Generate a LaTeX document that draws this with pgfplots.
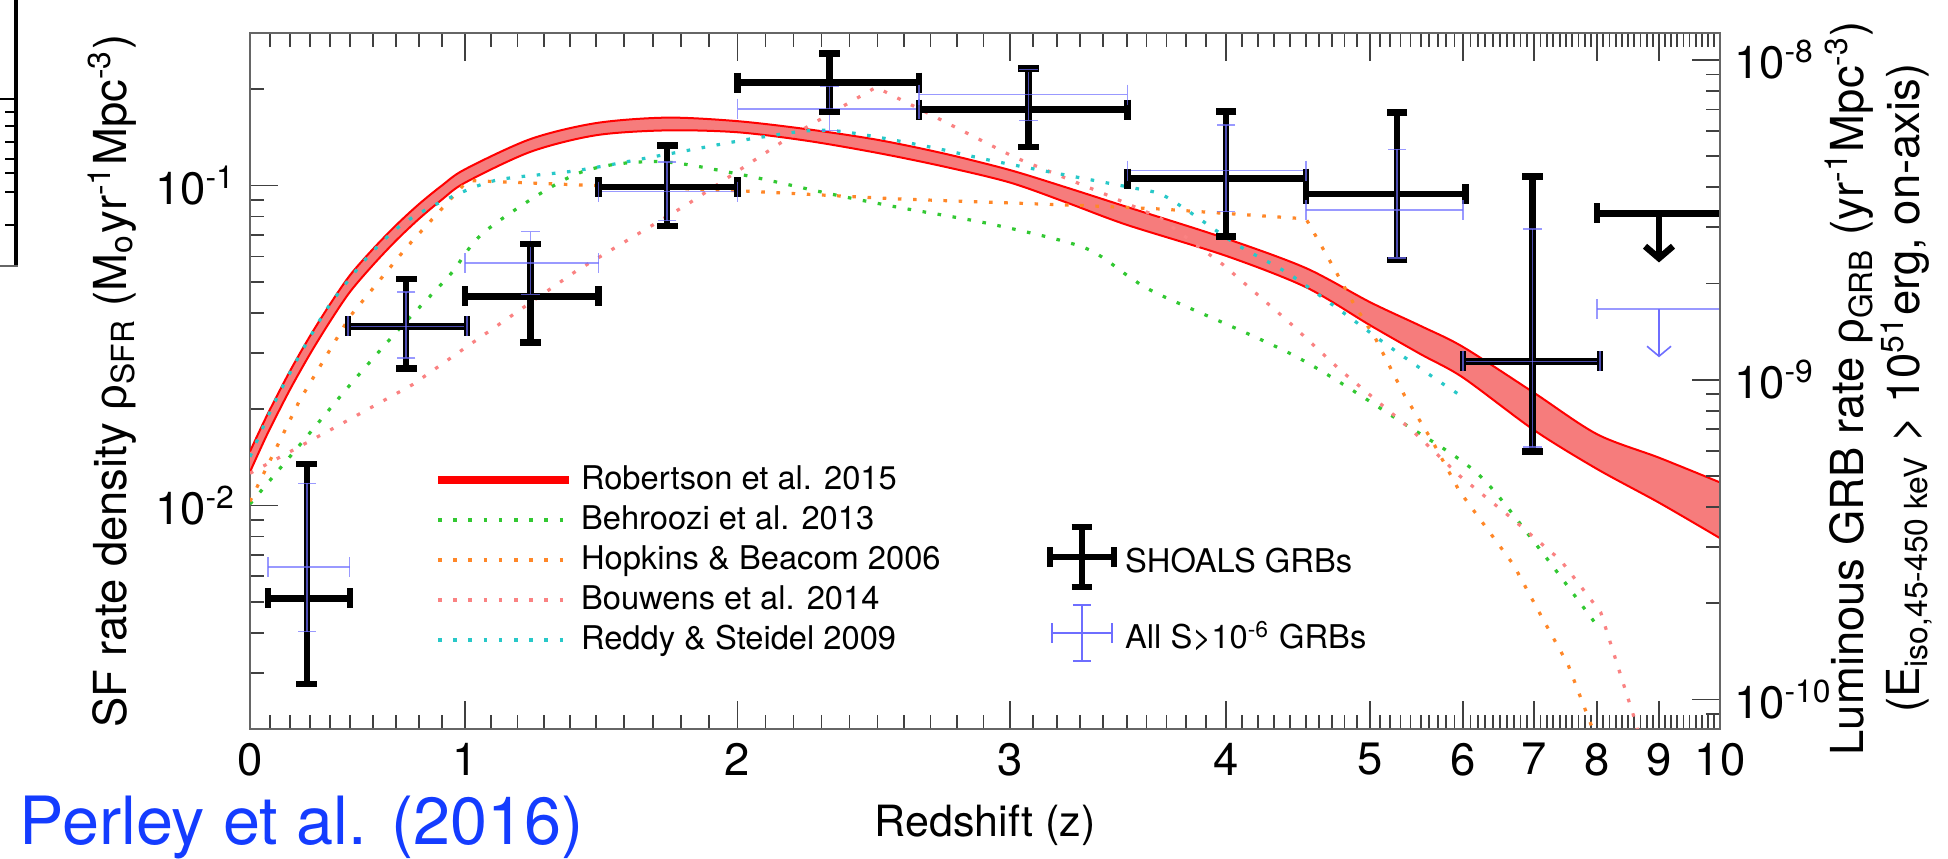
\documentclass[border=0pt]{standalone}
\usepackage{pgfplots}
\pgfplotsset{compat=1.18}
\usepgfplotslibrary{fillbetween}
\usetikzlibrary{arrows.meta}
\usepackage{fontspec}
\setmainfont{TeX Gyre Heros}
\newfontfamily\grk{Liberation Sans}

\definecolor{robred}{RGB}{255,0,0}
\definecolor{robfill}{RGB}{246,124,124}
\definecolor{behg}{RGB}{50,200,50}
\definecolor{hopo}{RGB}{255,135,40}
\definecolor{boup}{RGB}{250,130,130}
\definecolor{redc}{RGB}{40,200,200}
\definecolor{allb}{RGB}{110,110,255}
\definecolor{perleyb}{RGB}{20,60,255}

\pgfplotsset{
  % the redshift axis of the figure is stretched; approximated piecewise-linearly in half-unit steps of z
  zx/.style={x filter/.expression={2.00*x+0.30*max(x-0.5,0)+0.32*max(x-1,0)+0.21*max(x-1.5,0)-0.03*max(x-2,0)-0.15*max(x-2.5,0)-0.316*max(x-3,0)-0.348*max(x-3.5,0)-0.386*max(x-4,0)-0.32*max(x-4.5,0)-0.266*max(x-5,0)-0.168*max(x-5.5,0)-0.106*max(x-6,0)-0.06*max(x-6.5,0)-0.04*max(x-7,0)-0.02*max(x-7.5,0)-0.01*max(x-9,0)}},
  dotcurve/.style={zx, line width=0.8bp, dash pattern=on 0.9bp off 2.9bp},
  shoalsh/.style={zx, black, line width=1.6bp, mark=|, mark size=2.5bp, mark options={solid, line width=1.6bp}},
  shoalsv/.style={zx, black, line width=1.6bp, mark=-, mark size=2.6bp, mark options={solid, line width=1.6bp}},
  allh/.style={zx, allb, opacity=0.7, line width=0.4bp, mark=|, mark size=2.5bp, mark options={solid, line width=0.4bp}},
  allv/.style={zx, allb, opacity=0.7, line width=0.4bp, mark=-, mark size=2.3bp, mark options={solid, line width=0.4bp}},
}

\begin{document}
\begin{tikzpicture}
% cropped fragment of a neighbouring panel
\draw[black, line width=1bp] (4bp,214.75bp) -- (4bp,148.25bp);
\draw[black!60, line width=0.6bp] (0bp,148.25bp) -- (4.5bp,148.25bp);
\draw[black, line width=0.5bp] (0bp,190.1bp) -- (4bp,190.1bp);
\foreach \yy in {186.75,183.25,179.25,175,171.5,166.75,158.5} {\draw[black, line width=0.5bp] (1.3bp,\yy bp) -- (4bp,\yy bp);}

\begin{axis}[
  at={(62.5bp,32.5bp)}, anchor=south west,
  scale only axis, width=367.5bp, height=174bp,
  xmin=0, xmax=14.7,
  ymode=log, ymin=0.002, ymax=0.3,
  xtick={0,2.15,4.875,7.6,9.76,11.2,12.13,12.84,13.47,14.09,14.7},
  xticklabels={0,1,2,3,4,5,6,7,8,9,10},
  minor xtick={0.2,0.4,0.6,0.8,1.0,1.23,1.46,1.69,1.92,
    2.412,2.674,2.936,3.198,3.46,3.743,4.026,4.309,4.592,
    5.155,5.435,5.715,5.995,6.275,6.54,6.805,7.07,7.335,
    7.8334,8.0668,8.3002,8.5336,8.767,8.9656,9.1642,9.3628,9.5614,
    9.92,10.08,10.24,10.40,10.56,10.688,10.816,10.944,11.072,
    11.3014,11.4028,11.5042,11.6056,11.707,11.7916,11.8762,11.9608,12.0454,
    12.204,12.278,12.352,12.426,12.5,12.568,12.636,12.704,12.772,
    12.904,12.968,13.032,13.096,13.16,13.222,13.284,13.346,13.408,
    13.532,13.594,13.656,13.718,13.78,13.842,13.904,13.966,14.028,
    14.151,14.212,14.273,14.334,14.395,14.456,14.517,14.578,14.639},
  ytick={0.01,0.1},
  yticklabels={10\textsuperscript{-2},10\textsuperscript{-1}},
  minor ytick={0.002,0.003,0.004,0.005,0.006,0.007,0.008,0.009,0.02,0.03,0.04,0.05,0.06,0.07,0.08,0.09,0.2,0.3},
  ytick pos=left,
  tick align=inside,
  major tick length=7bp, minor tick length=3.5bp,
  every tick/.style={black!75, line width=0.45bp},
  axis line style={black!60, line width=0.6bp},
  tick label style={font=\fontsize{11.4}{13}\selectfont},
  xlabel={Redshift (z)},
  every axis x label/.style={at={(axis description cs:0.5,-0.138)}, anchor=center, font=\fontsize{10.8}{12}\selectfont},
  ylabel={SF rate density {\grk ρ}\textsubscript{SFR} (M\textsubscript{o}yr\textsuperscript{-1}Mpc\textsuperscript{-3})},
  every axis y label/.style={at={(axis description cs:-0.0939,0.5)}, rotate=90, anchor=center, font=\fontsize{11.4}{13}\selectfont},
  unbounded coords=jump,
  legend cell align=left,
  legend image code/.code={\draw[#1] (0bp,0bp) -- (32.75bp,0bp);},
  legend style={at={(axis description cs:0.1252,0.3865)}, anchor=north west, draw=none, fill=none, inner sep=0pt, outer sep=0pt, row sep=0pt,
    nodes={inner ysep=1bp, inner xsep=2bp, text height=6.3bp, text depth=1.7bp, font=\fontsize{8.2}{10}\selectfont}},
]
\addlegendimage{robred, line width=2bp}
\addlegendentry{Robertson et al. 2015}
\addlegendimage{behg, line width=0.8bp, dash pattern=on 0.9bp off 2.9bp}
\addlegendentry{Behroozi et al. 2013}
\addlegendimage{hopo, line width=0.8bp, dash pattern=on 0.9bp off 2.9bp}
\addlegendentry{Hopkins \& Beacom 2006}
\addlegendimage{boup, line width=0.8bp, dash pattern=on 0.9bp off 2.9bp}
\addlegendentry{Bouwens et al. 2014}
\addlegendimage{redc, line width=0.8bp, dash pattern=on 0.9bp off 2.9bp}
\addlegendentry{Reddy \& Steidel 2009}

% Robertson et al. 2015 band
\addplot[zx, smooth, name path=rup, robred, line width=0.5bp, forget plot] coordinates {
(0,0.01475)(0.05,0.01722)(0.1,0.01996)(0.2,0.02632)(0.3,0.03384)(0.4,0.04256)(0.5,0.05245)(0.6,0.06336)(0.7,0.07514)(0.8,0.08752)(0.9,0.10009)(1,0.11244)(1.25,0.13979)(1.5,0.15681)(1.75,0.1631)(2,0.1590)(2.25,0.1500)(2.5,0.1390)(2.75,0.1260)(3,0.1118)(3.25,0.0982)(3.5,0.0858)(4,0.0683)(4.5,0.0552)(5,0.0432)(5.5,0.0364)(6,0.0313)(7,0.0225)(8,0.0167)(9,0.0141)(10,0.0118)};
\addplot[zx, smooth, name path=rlo, robred, line width=0.5bp, forget plot] coordinates {
(0,0.01273)(0.05,0.01493)(0.1,0.01739)(0.2,0.02303)(0.3,0.02975)(0.4,0.03759)(0.5,0.04653)(0.6,0.05646)(0.7,0.06728)(0.8,0.07872)(0.9,0.09044)(1,0.10209)(1.25,0.12750)(1.5,0.14368)(1.75,0.1488)(2,0.1468)(2.25,0.1380)(2.5,0.1265)(2.75,0.1147)(3,0.1022)(3.25,0.0881)(3.5,0.0754)(4,0.0603)(4.5,0.0481)(5,0.0366)(5.5,0.0297)(6,0.0251)(7,0.0172)(8,0.0130)(9,0.0102)(10,0.0079)};
\addplot[robfill, forget plot] fill between[of=rup and rlo];

% Behroozi et al. 2013
\addplot[behg, dotcurve, smooth, forget plot] coordinates {
(0,0.0101)(0.269,0.016)(0.4999,0.0238)(0.7196,0.036)(0.9346,0.0526)(1.080,0.0723)(1.4263,0.1088)(1.7111,0.1189)(2.0,0.1088)(2.3309,0.0942)(2.5784,0.0855)(2.928,0.0758)(3.3147,0.0641)(3.5106,0.052)(3.6628,0.0457)(4.432,0.0293)(5.3027,0.0183)(6.1919,0.0126)(7,0.0077)(8,0.00421)};
% Hopkins & Beacom 2006
\addplot[hopo, dotcurve, forget plot] coordinates {
(0,0.0103)(0.25,0.0214)(0.5,0.039)(0.75,0.0646)(0.8916,0.0835)(1.0104,0.1037)(1.4992,0.100)(2.0,0.0964)(2.5784,0.0908)(3.3147,0.0866)(3.6672,0.0845)(4.5005,0.0787)(4.7019,0.0567)(4.8717,0.0428)(5.0532,0.0333)(5.3394,0.0221)(5.6482,0.0157)(5.956,0.0111)(6.6972,0.00653)(7.118,0.00449)(7.5326,0.00318)(7.9387,0.00198)(8.0,0.0018)};
% Bouwens et al. 2014
\addplot[boup, dotcurve, forget plot] coordinates {
(0,0.0126)(0.415,0.0174)(0.7738,0.0239)(1.0104,0.0315)(1.4263,0.0542)(1.8248,0.0876)(2.1849,0.1417)(2.4948,0.203)(2.6679,0.172)(3.0185,0.1227)(3.4072,0.094)(3.6628,0.0796)(3.9837,0.0567)(4.387,0.0377)(4.7581,0.0267)(5.4127,0.0172)(5.956,0.0124)(6.645,0.00922)(7.4134,0.00675)(8.06,0.00463)(8.35,0.00308)(8.64,0.00205)(8.7,0.0018)};
% Reddy & Steidel 2009
\addplot[redc, dotcurve, smooth, forget plot] coordinates {
(0,0.0142)(0.1,0.0196)(0.2,0.026)(0.3,0.0336)(0.4,0.0425)(0.5728,0.0594)(0.7196,0.075)(0.8916,0.0886)(1.1144,0.1037)(1.4263,0.1114)(1.7593,0.1257)(2.0856,0.1417)(2.328,0.1488)(2.6679,0.1335)(2.928,0.1198)(3.2129,0.1088)(3.5106,0.0989)(3.6672,0.0942)(3.8042,0.0837)(4.072,0.0652)(4.387,0.0532)(4.7638,0.0408)(5.1651,0.0318)(5.6922,0.0247)(6.0,0.0218)};

% SHOALS GRBs
\addplot[shoalsh, forget plot] coordinates {
(0.0903,0.00512)(0.5,0.00512)(0.5,nan)
(0.4913,0.0363)(1.0073,0.0363)(1.0073,nan)
(1.0,0.0450)(1.5089,0.0450)(1.5089,nan)
(1.5089,0.0988)(2.0,0.0988)(2.0,nan)
(2.0,0.2099)(2.6566,0.2099)(2.6566,nan)
(2.6566,0.1727)(3.503,0.1727)(3.503,nan)
(3.503,0.1052)(4.5005,0.1052)(4.5005,nan)
(4.5005,0.094)(6.0336,0.094)(6.0336,nan)
(6.0,0.0282)(8.05,0.0282)(8.05,nan)
(8.0,0.0819)(10.0,0.0819)};
\addplot[shoalsv, forget plot] coordinates {
(0.2838,0.00277)(0.2838,0.01346)(0.2838,nan)
(0.7439,0.0268)(0.7439,0.0511)(0.7439,nan)
(1.2496,0.0323)(1.2496,0.0656)(1.2496,nan)
(1.7516,0.0749)(1.7516,0.1335)(1.7516,nan)
(2.328,0.1698)(2.328,0.2588)(2.328,nan)
(3.0796,0.1318)(3.0796,0.2321)(3.0796,nan)
(4.0,0.0694)(4.0,0.1703)(4.0,nan)
(5.266,0.0584)(5.266,0.1693)(5.266,nan)
(6.979,0.01473)(6.979,0.1066)};
\addplot[zx, black, line width=1.6bp, -{Straight Barb[length=3bp,width=7bp]}, forget plot] coordinates {(9.0,0.0819)(9.0,0.0575)};

% All S>1e-6 GRBs
\addplot[allh, forget plot] coordinates {
(0.0903,0.00641)(0.4977,0.00641)(0.4977,nan)
(0.4913,0.0363)(1.0073,0.0363)(1.0073,nan)
(1.0,0.0572)(1.5089,0.0572)(1.5089,nan)
(1.5089,0.0958)(2.0,0.0958)(2.0,nan)
(2.0,0.1739)(2.6566,0.1739)(2.6566,nan)
(2.6566,0.1924)(3.503,0.1924)(3.503,nan)
(3.503,0.1114)(4.5005,0.1114)(4.5005,nan)
(4.5005,0.0837)(6.0,0.0837)(6.0,nan)
(6.0,0.0282)(8.05,0.0282)(8.05,nan)
(8.0,0.0411)(10.0,0.0411)};
\addplot[allv, forget plot] coordinates {
(0.2838,0.00403)(0.2838,0.01172)(0.2838,nan)
(0.7439,0.0289)(0.7439,0.0464)(0.7439,nan)
(1.2496,0.0457)(1.2496,0.0718)(1.2496,nan)
(1.7516,0.0777)(1.7516,0.1183)(1.7516,nan)
(2.328,0.1488)(2.328,0.2043)(2.328,nan)
(3.0796,0.1599)(3.0796,0.2307)(3.0796,nan)
(4.0,0.0829)(4.0,0.155)(4.0,nan)
(5.266,0.0593)(5.266,0.1297)(5.266,nan)
(6.979,0.0152)(6.979,0.0731)};
\addplot[zx, allb, line width=0.4bp, -{Straight Barb[length=2.5bp,width=6bp]}, forget plot] coordinates {(9.0,0.0411)(9.0,0.02905)};
\end{axis}

\begin{axis}[
  at={(62.5bp,32.5bp)}, anchor=south west,
  scale only axis, width=367.5bp, height=174bp,
  xmin=0, xmax=1, hide x axis,
  axis y line*=right,
  ymode=log, ymin=8.09e-11, ymax=1.2135e-8,
  ytick={1e-10,1e-9,1e-8},
  yticklabels={10\textsuperscript{-10},10\textsuperscript{-9},10\textsuperscript{-8}},
  minor ytick={9e-11,2e-10,3e-10,4e-10,5e-10,6e-10,7e-10,8e-10,9e-10,2e-9,3e-9,4e-9,5e-9,6e-9,7e-9,8e-9,9e-9},
  tick align=inside,
  major tick length=7bp, minor tick length=3.5bp,
  every tick/.style={black!75, line width=0.45bp},
  axis line style={black!60, line width=0.6bp},
  tick label style={font=\fontsize{11.4}{13}\selectfont},
  ylabel={Luminous GRB rate {\grk ρ}\textsubscript{GRB} (yr\textsuperscript{-1}Mpc\textsuperscript{-3})\\(E\textsubscript{iso,45-450 keV} > 10\textsuperscript{51}erg, on-axis)},
  every axis y label/.style={at={(axis description cs:1.108,0.49)}, rotate=90, anchor=center, align=center, font=\fontsize{11.4}{14}\selectfont},
  legend cell align=left,
  legend style={at={(axis description cs:0.542,0.302)}, anchor=north west, draw=none, fill=none, inner sep=0pt, outer sep=0pt, row sep=0pt,
    nodes={inner ysep=1bp, inner xsep=2bp, text height=12.5bp, text depth=4.5bp, font=\fontsize{8.2}{10}\selectfont}},
]
\addplot[draw=none, forget plot] coordinates {(0.5,1e-9)};
\addlegendimage{legend image code/.code={
  \draw[black, line width=1.6bp] (0bp,0bp) -- (16bp,0bp);
  \draw[black, line width=1.6bp] (8bp,-7.5bp) -- (8bp,7.5bp);
  \draw[black, line width=1.6bp] (0bp,-2.5bp) -- (0bp,2.5bp);
  \draw[black, line width=1.6bp] (16bp,-2.5bp) -- (16bp,2.5bp);
  \draw[black, line width=1.6bp] (5.4bp,-7.5bp) -- (10.6bp,-7.5bp);
  \draw[black, line width=1.6bp] (5.4bp,7.5bp) -- (10.6bp,7.5bp);}}
\addlegendentry{SHOALS GRBs}
\addlegendimage{legend image code/.code={
  \draw[allb, line width=0.4bp] (0.5bp,0bp) -- (15.5bp,0bp);
  \draw[allb, line width=0.4bp] (8bp,-7bp) -- (8bp,7bp);
  \draw[allb, line width=0.4bp] (0.5bp,-2.5bp) -- (0.5bp,2.5bp);
  \draw[allb, line width=0.4bp] (15.5bp,-2.5bp) -- (15.5bp,2.5bp);
  \draw[allb, line width=0.4bp] (5.75bp,-7bp) -- (10.25bp,-7bp);
  \draw[allb, line width=0.4bp] (5.75bp,7bp) -- (10.25bp,7bp);}}
\addlegendentry{All S>10\textsuperscript{-6} GRBs}
\end{axis}

\node[anchor=west, inner sep=0pt, text=perleyb, font=\fontsize{16.7}{19}\selectfont] at (4.75bp,8bp) {Perley et al. (2016)};
\pgfresetboundingbox
\path[use as bounding box] (0,0) rectangle (487bp,214.75bp);
\end{tikzpicture}
\end{document}
